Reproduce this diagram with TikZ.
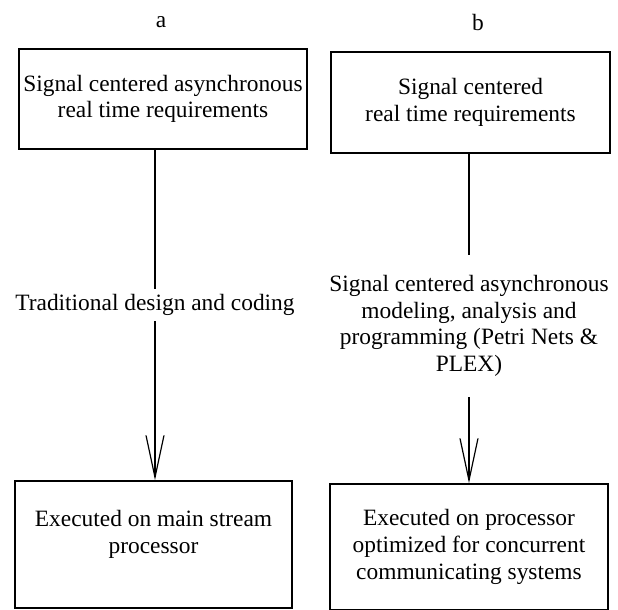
\documentclass[tikz,border=0pt]{standalone}
\usepackage{fontspec}
\setmainfont{Liberation Serif}
\usetikzlibrary{arrows.meta}

\begin{document}
\begin{tikzpicture}[x=0.5pt, y=-0.5pt,
  font=\fontsize{11.7}{13.35}\selectfont,
  box/.style={draw, line width=0.75pt, align=center, inner sep=0pt},
  lbl/.style={align=center, inner xsep=0pt},
  link/.style={line width=0.6pt},
  arr/.style={link, -{Straight Barb[length=21pt, width=9pt, line width=0.6pt]}}]
  \useasboundingbox (0,0) rectangle (618,610);

  % Draw column titles
  \node (ttlA) at (161,22) {a};
  \node (ttlB) at (478,22) {b};

  % Draw boxes
  \node[box, minimum width=144pt, minimum height=50pt] (reqA) at (163,99)
    {Signal centered asynchronous\\ real time requirements};
  \node[box, minimum width=139.5pt, minimum height=50.5pt] (reqB) at (470.5,102.5)
    {Signal centered\\ real time requirements};
  \node[box, minimum width=138.5pt, minimum height=63.5pt, text depth=12.6pt] (exeA) at (153.5,544.5)
    {Executed on main stream\\ processor};
  \node[box, minimum width=139pt, minimum height=63pt] (exeB) at (469,547)
    {Executed on processor\\ optimized for concurrent\\ communicating systems};

  % Draw labels on the links
  \node[lbl, inner ysep=2.5pt] (trad) at (155,305) {Traditional design and coding};
  \node[lbl, inner ysep=10pt] (petri) at (469,326)
    {Signal centered asynchronous\\ modeling, analysis and\\ programming (Petri Nets \&\\ PLEX)};

  % Draw links
  \draw[link] (reqA.south -| trad) -- (trad);
  \draw[arr] (trad) -- (exeA.north -| trad);
  \draw[link] (reqB.south -| petri) -- (petri);
  \draw[arr] (petri) -- (exeB.north -| petri);
\end{tikzpicture}
\end{document}
